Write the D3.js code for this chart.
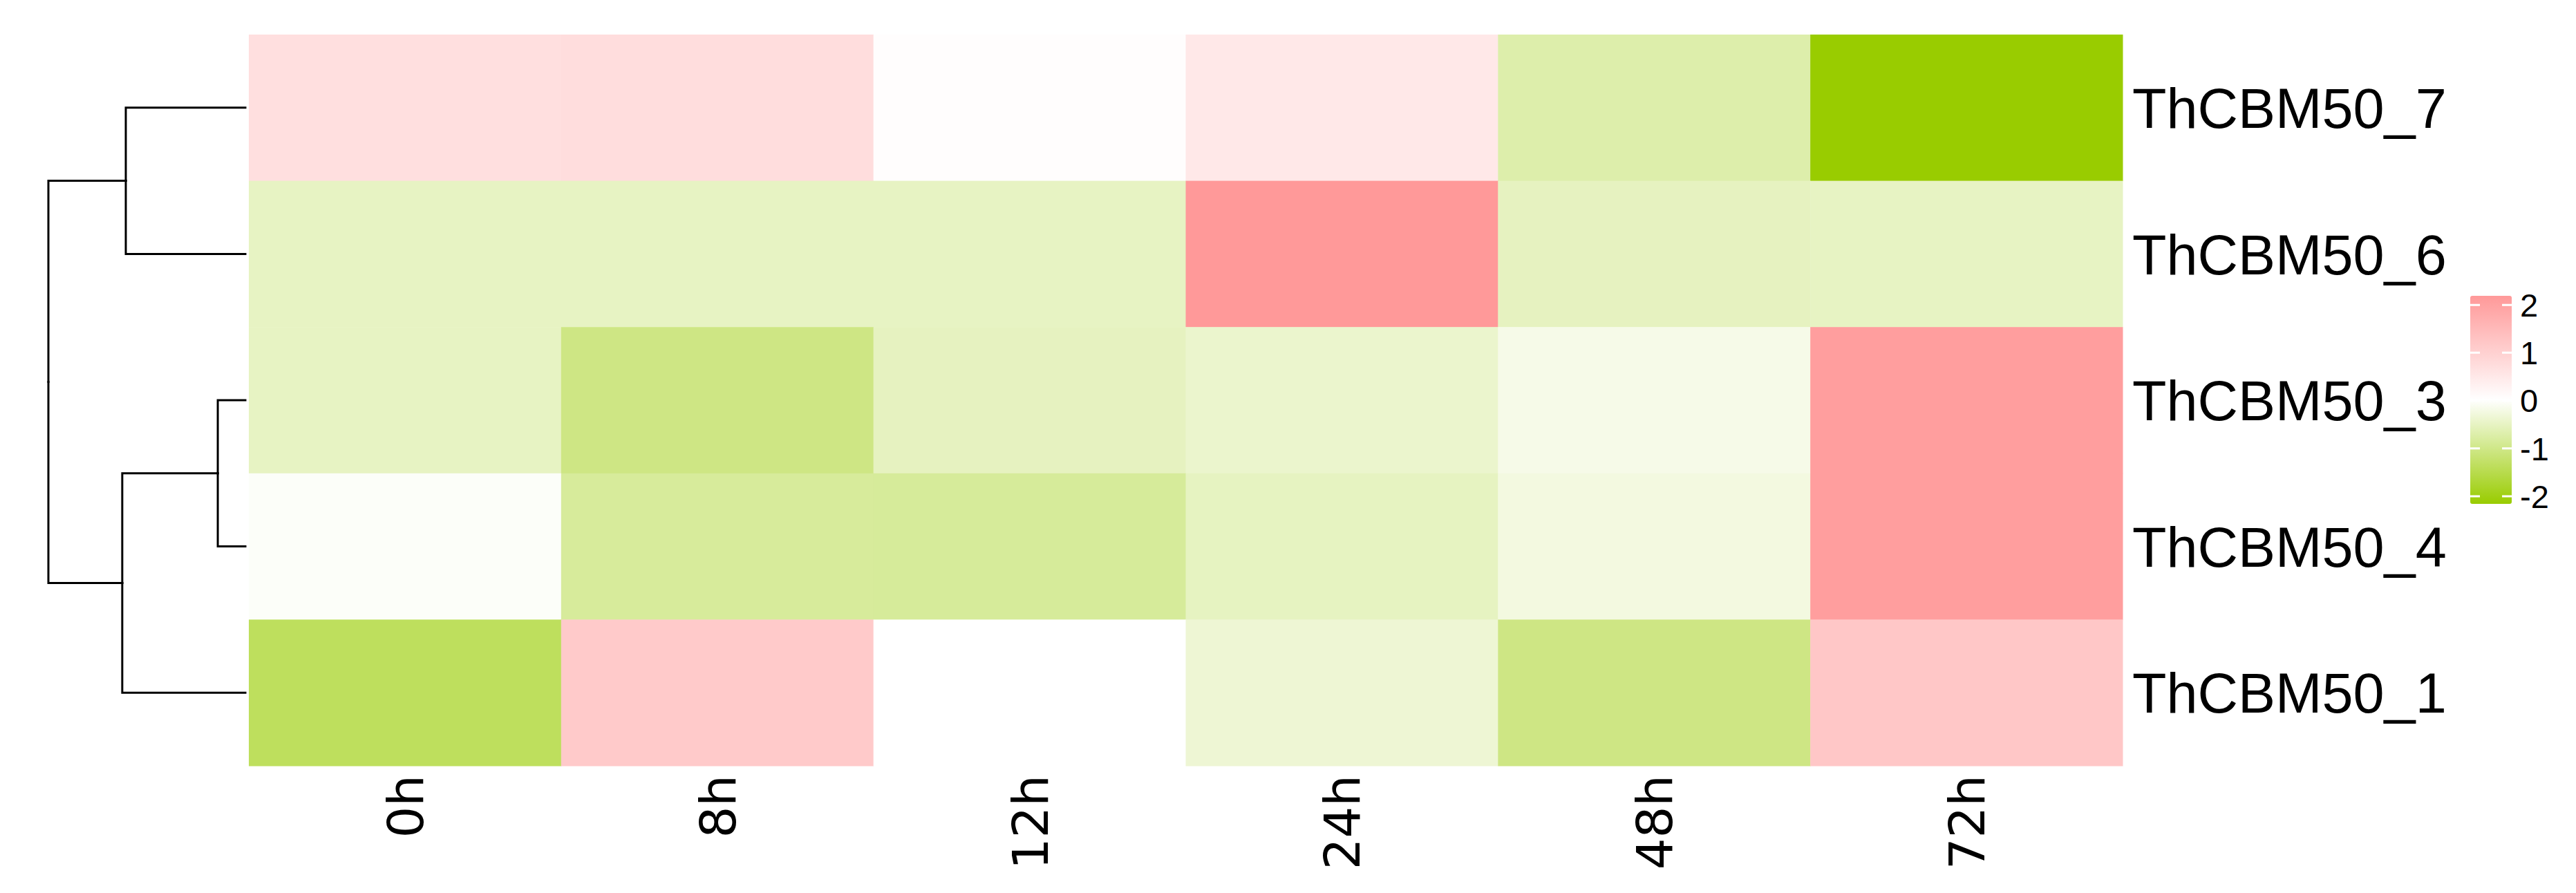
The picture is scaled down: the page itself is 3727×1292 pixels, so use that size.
<!DOCTYPE html>
<html>
<head>
<meta charset="utf-8">
<script src="https://cdn.jsdelivr.net/npm/d3@7"></script>
<style>
  html, body { margin: 0; padding: 0; background: #fff; }
  svg { display: block; }
</style>
</head>
<body>
<div id="chart"></div>
<script>
const width = 3727;
const height = 1292;

// rows in clustered order, top to bottom
const genes = ["ThCBM50_7", "ThCBM50_6", "ThCBM50_3", "ThCBM50_4", "ThCBM50_1"];
const times = ["0h", "8h", "12h", "24h", "48h", "72h"];

// scaled expression, one array per gene (columns follow times)
const valCBM7 = [0.70, 0.75, 0.05, 0.50, -0.70, -2.16];
const valCBM6 = [-0.50, -0.50, -0.50, 2.19, -0.52, -0.50];
const valCBM3 = [-0.50, -1.03, -0.52, -0.41, -0.18, 2.08];
const valCBM4 = [-0.04, -0.84, -0.85, -0.51, -0.25, 2.08];
const valCBM1 = [-1.37, 1.14, 0.02, -0.35, -1.03, 1.20];
const values = [valCBM7, valCBM6, valCBM3, valCBM4, valCBM1];

// row dendrogram: merges as [left, right, height], names of merged clusters
const mergeNames = ["c34", "c76", "c341", "root"];
const mergeLeft = ["ThCBM50_3", "ThCBM50_7", "c34", "c76"];
const mergeRight = ["ThCBM50_4", "ThCBM50_6", "ThCBM50_1", "c341"];
const mergeHeight = [0.14, 0.607, 0.625, 1.0];

const legendTicks = [-2, -1, 0, 1, 2];
const valueMin = -2.16;
const valueMax = 2.19;

const svg = d3.select("#chart").append("svg")
    .attr("width", width)
    .attr("height", height)
    .attr("viewBox", [0, 0, width, height]);

svg.append("rect")
    .attr("width", width)
    .attr("height", height)
    .attr("fill", "#fff");

const x = d3.scaleBand().domain(times).range([360, 3071]);
const y = d3.scaleBand().domain(genes).range([50, 1108]);
const color = d3.scaleLinear()
    .domain([valueMin, (valueMin + valueMax) / 2, valueMax])
    .range(["#99CC00", "#FFFFFF", "#FF9999"]);

const cells = genes.flatMap((g, i) => times.map((t, j) => ({gene: g, time: t, value: values[i][j]})));

svg.append("g")
  .selectAll("rect")
  .data(cells)
  .join("rect")
    .attr("x", dt => x(dt.time))
    .attr("y", dt => y(dt.gene))
    .attr("width", x.bandwidth() + 0.5)
    .attr("height", y.bandwidth() + 0.5)
    .attr("fill", dt => color(dt.value));

// row labels
svg.append("g")
    .attr("font-family", "Liberation Sans, Arial, sans-serif")
    .attr("font-size", 81)
  .selectAll("text")
  .data(genes)
  .join("text")
    .attr("x", 3085)
    .attr("y", dt => y(dt) + y.bandwidth() / 2)
    .attr("dy", "0.36em")
    .attr("fill", "#000")
    .text(dt => dt);

// column labels, rotated
svg.append("g")
    .attr("font-family", "DejaVu Sans, sans-serif")
    .attr("font-size", 72)
  .selectAll("text")
  .data(times)
  .join("text")
    .attr("transform", dt => `translate(${x(dt) + x.bandwidth() / 2},1121) rotate(-90)`)
    .attr("text-anchor", "end")
    .attr("dy", "0.36em")
    .attr("fill", "#000")
    .text(dt => dt);

// dendrogram
const nodes = new Map();
genes.forEach(g => nodes.set(g, {name: g, h: 0, y: y(g) + y.bandwidth() / 2}));
mergeNames.forEach((name, i) => {
  const a = nodes.get(mergeLeft[i]);
  const b = nodes.get(mergeRight[i]);
  nodes.set(name, {name, h: mergeHeight[i], y: (a.y + b.y) / 2, children: [a, b]});
});

const hx = d3.scaleLinear().domain([0, 1]).range([355, 70]);
const links = mergeNames.flatMap(name => {
  const p = nodes.get(name);
  return p.children.map(c => ({source: p, target: c}));
});

svg.append("g")
    .attr("fill", "none")
    .attr("stroke", "#000")
    .attr("stroke-width", 3)
    .attr("stroke-linecap", "square")
  .selectAll("path")
  .data(links)
  .join("path")
    .attr("d", dt => `M${hx(dt.source.h)},${dt.source.y}V${dt.target.y}H${hx(dt.target.h)}`);

// legend
const ly = d3.scaleLinear().domain([valueMin, valueMax]).range([729, 428]);
const defs = svg.append("defs");
const grad = defs.append("linearGradient")
    .attr("id", "legend-grad")
    .attr("x1", 0).attr("y1", 1).attr("x2", 0).attr("y2", 0);
d3.range(0, 1.0001, 0.1).forEach(t => {
  grad.append("stop")
      .attr("offset", t)
      .attr("stop-color", color(valueMin + t * (valueMax - valueMin)));
});

const legend = svg.append("g");
legend.append("rect")
    .attr("x", 3574)
    .attr("y", ly(valueMax))
    .attr("width", 60)
    .attr("height", ly(valueMin) - ly(valueMax))
    .attr("rx", 3)
    .attr("fill", "url(#legend-grad)");

legend.append("g")
    .attr("stroke", "#fff")
    .attr("stroke-width", 3)
  .selectAll("path")
  .data(legendTicks)
  .join("path")
    .attr("d", dt => `M3574,${ly(dt)}h14M3620,${ly(dt)}h14`);

legend.append("g")
    .attr("font-family", "Liberation Sans, Arial, sans-serif")
    .attr("font-size", 47)
  .selectAll("text")
  .data(legendTicks)
  .join("text")
    .attr("x", 3646)
    .attr("y", dt => ly(dt))
    .attr("dy", "0.36em")
    .attr("fill", "#000")
    .text(dt => dt);
</script>
</body>
</html>
